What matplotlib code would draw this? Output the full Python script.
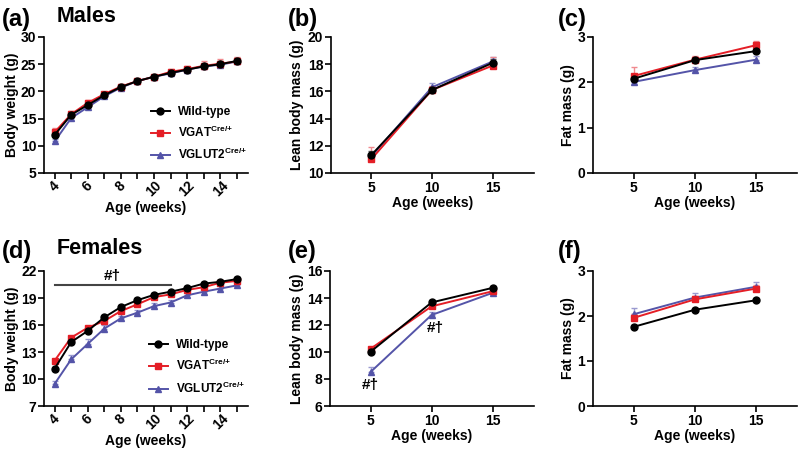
import matplotlib
matplotlib.use("Agg")
import matplotlib.pyplot as plt
import numpy as np

plt.rcParams["font.family"] = ["Liberation Sans", "DejaVu Sans"]
plt.rcParams["font.weight"] = "bold"
plt.rcParams["mathtext.fontset"] = "custom"
plt.rcParams["mathtext.rm"] = "Liberation Sans:bold"
plt.rcParams["mathtext.default"] = "rm"

# ---- data ----
weeks = np.arange(4, 16)
scan_weeks = [5, 10, 15]

m_bw_wt = [12.0, 15.7, 17.5, 19.3, 20.8, 21.9, 22.7, 23.4, 24.0, 24.6, 25.0, 25.6]
m_bw_vgat = [12.5, 15.8, 17.9, 19.5, 20.9, 21.9, 22.7, 23.6, 24.1, 24.7, 25.1, 25.5]
m_bw_vglut = [10.8, 15.1, 17.1, 19.1, 20.7, 21.9, 22.7, 23.3, 24.0, 24.6, 24.9, 25.5]
m_bw_wt_err = [0.4, 0.4, 0.3, 0.3, 0.3, 0.3, 0.3, 0.4, 0.4, 0.5, 0.5, 0.5]
m_bw_vgat_err = [0.8, 0.6, 0.5, 0.4, 0.4, 0.4, 0.4, 0.6, 0.6, 0.9, 0.9, 0.8]
m_bw_vglut_err = [0.4, 0.4, 0.3, 0.3, 0.3, 0.3, 0.3, 0.3, 0.3, 0.4, 0.4, 0.4]

m_lean_wt = [11.3, 16.1, 18.1]
m_lean_vgat = [11.0, 16.1, 17.9]
m_lean_vglut = [11.2, 16.3, 18.2]
m_lean_wt_err = [0.3, 0.2, 0.3]
m_lean_vgat_err = [0.9, 0.3, 0.6]
m_lean_vglut_err = [0.3, 0.3, 0.3]

m_fat_wt = [2.08, 2.49, 2.69]
m_fat_vgat = [2.14, 2.50, 2.82]
m_fat_vglut = [2.01, 2.27, 2.50]
m_fat_wt_err = [0.05, 0.05, 0.05]
m_fat_vgat_err = [0.19, 0.08, 0.09]
m_fat_vglut_err = [0.04, 0.07, 0.08]

f_bw_wt = [11.15, 14.1, 15.35, 16.85, 18.0, 18.76, 19.35, 19.7, 20.1, 20.6, 20.8, 21.1]
f_bw_vgat = [12.04, 14.6, 15.7, 16.45, 17.55, 18.3, 19.1, 19.4, 19.9, 20.2, 20.7, 20.9]
f_bw_vglut = [9.46, 12.18, 13.9, 15.6, 16.74, 17.37, 18.1, 18.5, 19.3, 19.7, 20.05, 20.4]
f_bw_wt_err = [0.2, 0.2, 0.2, 0.2, 0.2, 0.2, 0.2, 0.2, 0.2, 0.2, 0.2, 0.2]
f_bw_vgat_err = [0.2, 0.2, 0.2, 0.2, 0.2, 0.2, 0.2, 0.2, 0.2, 0.2, 0.2, 0.2]
f_bw_vglut_err = [0.35, 0.5, 0.5, 0.4, 0.3, 0.3, 0.35, 0.3, 0.3, 0.3, 0.3, 0.3]

f_lean_wt = [10.02, 13.67, 14.75]
f_lean_vgat = [10.24, 13.38, 14.5]
f_lean_vglut = [8.52, 12.74, 14.38]
f_lean_wt_err = [0.15, 0.15, 0.15]
f_lean_vgat_err = [0.15, 0.15, 0.15]
f_lean_vglut_err = [0.35, 0.2, 0.15]

f_fat_wt = [1.76, 2.14, 2.35]
f_fat_vgat = [1.96, 2.37, 2.61]
f_fat_vglut = [2.04, 2.41, 2.65]
f_fat_wt_err = [0.04, 0.04, 0.05]
f_fat_vgat_err = [0.08, 0.08, 0.08]
f_fat_vglut_err = [0.13, 0.11, 0.11]

labels = ["Wild-type", r"VGAT$^{Cre/{+}}$", r"VGLUT2$^{Cre/{+}}$"]
colors = ["#000000", "#e41e26", "#5454a8"]
errcolors = ["#555555", "#f08a8f", "#9a9ad0"]
markers = ["o", "s", "^"]

W, H = 800, 450
fig = plt.figure(figsize=(8, 4.5), dpi=100)


def make_ax(l, r, t, b):
    return fig.add_axes([l / W, 1 - b / H, (r - l) / W, (b - t) / H])


def draw(ax, x, series, errs, order=(2, 1, 0)):
    for i in order:
        y = np.asarray(series[i])
        e = np.asarray(errs[i])
        ax.errorbar(x, y, yerr=[np.zeros_like(e), e], fmt="none", ecolor=errcolors[i],
                    elinewidth=1.0, capsize=2.5, capthick=1.0, zorder=2 + 0.1 * (3 - i), clip_on=False)
        ax.plot(x, y, color=colors[i], marker=markers[i], ms=5, lw=1.4, label=labels[i],
                zorder=3 + 0.1 * (3 - i), clip_on=False)


def style(ax, ylim, yticks, xlim, ylabel, ylab_px, left):
    for s in ["top", "right"]:
        ax.spines[s].set_visible(False)
    for s in ["left", "bottom"]:
        ax.spines[s].set_linewidth(1.2)
    ax.set_ylim(*ylim)
    ax.set_yticks(yticks)
    ax.set_xlim(*xlim)
    ax.tick_params(width=1.2, length=4, labelsize=10, pad=1.5)
    ax.set_ylabel(ylabel, fontsize=10, fontweight="bold")
    ax.set_xlabel("Age (weeks)", fontsize=10, fontweight="bold", labelpad=1)
    width = ax.get_position().width * W
    # label anchor is its right edge; shift by half the text height
    ax.yaxis.set_label_coords((ylab_px + 7 - left) / width, 0.5)


def weekly_axis(ax):
    ax.set_xticks(weeks)
    ax.set_xticklabels([str(w) if w % 2 == 0 else "" for w in weeks], rotation=45)
    ax.tick_params(axis="x", pad=0)


def add_legend(ax, anchor):
    h, l = ax.get_legend_handles_labels()
    ax.legend(h[::-1], l[::-1], loc="upper left", bbox_to_anchor=anchor, frameon=False,
              prop={"size": 8.5, "weight": "bold"}, handlelength=1.6, labelspacing=0.6,
              handletextpad=0.7, borderaxespad=0)


# (a)
ax = make_ax(44, 248, 37, 173)
draw(ax, weeks, [m_bw_wt, m_bw_vgat, m_bw_vglut], [m_bw_wt_err, m_bw_vgat_err, m_bw_vglut_err])
style(ax, (5, 30), [5, 10, 15, 20, 25, 30], (3.36, 15.67), "Body weight (g)", 12, 44)
weekly_axis(ax)
add_legend(ax, (0.5, 0.53))

# (b)
ax = make_ax(331, 534, 37, 173)
draw(ax, scan_weeks, [m_lean_wt, m_lean_vgat, m_lean_vglut], [m_lean_wt_err, m_lean_vgat_err, m_lean_vglut_err])
style(ax, (10, 20), [10, 12, 14, 16, 18, 20], (1.7, 18.4), "Lean body mass (g)", 297, 331)
ax.set_xticks(scan_weeks)

# (c)
ax = make_ax(593, 797, 37, 173)
draw(ax, scan_weeks, [m_fat_wt, m_fat_vgat, m_fat_vglut], [m_fat_wt_err, m_fat_vgat_err, m_fat_vglut_err])
style(ax, (0, 3), [0, 1, 2, 3], (1.67, 18.33), "Fat mass (g)", 568, 593)
ax.set_xticks(scan_weeks)

# (d)
ax = make_ax(44, 248, 271, 406)
draw(ax, weeks, [f_bw_wt, f_bw_vgat, f_bw_vglut], [f_bw_wt_err, f_bw_vgat_err, f_bw_vglut_err])
style(ax, (7, 22), [7, 10, 13, 16, 19, 22], (3.36, 15.67), "Body weight (g)", 12, 44)
weekly_axis(ax)
ax.plot([4, 11], [20.45, 20.45], color="#444444", lw=1.5)
ax.text(7.5, 20.65, "#†", ha="center", va="bottom", fontsize=11, fontweight="bold")
add_legend(ax, (0.49, 0.53))

# (e)
ax = make_ax(330, 534, 271, 406)
draw(ax, scan_weeks, [f_lean_wt, f_lean_vgat, f_lean_vglut], [f_lean_wt_err, f_lean_vgat_err, f_lean_vglut_err])
style(ax, (6, 16), [6, 8, 10, 12, 14, 16], (1.67, 18.4), "Lean body mass (g)", 297, 330)
ax.set_xticks(scan_weeks)
ax.text(5, 8.1, "#†", ha="center", va="top", fontsize=11, fontweight="bold")
ax.text(10.3, 12.3, "#†", ha="center", va="top", fontsize=11, fontweight="bold")

# (f)
ax = make_ax(593, 797, 271, 406)
draw(ax, scan_weeks, [f_fat_wt, f_fat_vgat, f_fat_vglut], [f_fat_wt_err, f_fat_vgat_err, f_fat_vglut_err])
style(ax, (0, 3), [0, 1, 2, 3], (1.67, 18.33), "Fat mass (g)", 568, 593)
ax.set_xticks(scan_weeks)

# panel labels
for txt, px, py in [("(a)", 2, 26), ("(b)", 288, 26), ("(c)", 558, 26),
                    ("(d)", 2, 258), ("(e)", 288, 258), ("(f)", 558, 258)]:
    fig.text(px / W, 1 - py / H, txt, fontsize=17, fontweight="bold", ha="left", va="baseline")
fig.text(57 / W, 1 - 22 / H, "Males", fontsize=15.5, fontweight="bold", ha="left", va="baseline")
fig.text(57 / W, 1 - 254 / H, "Females", fontsize=15.5, fontweight="bold", ha="left", va="baseline")

fig.savefig("out.png", dpi=100)
